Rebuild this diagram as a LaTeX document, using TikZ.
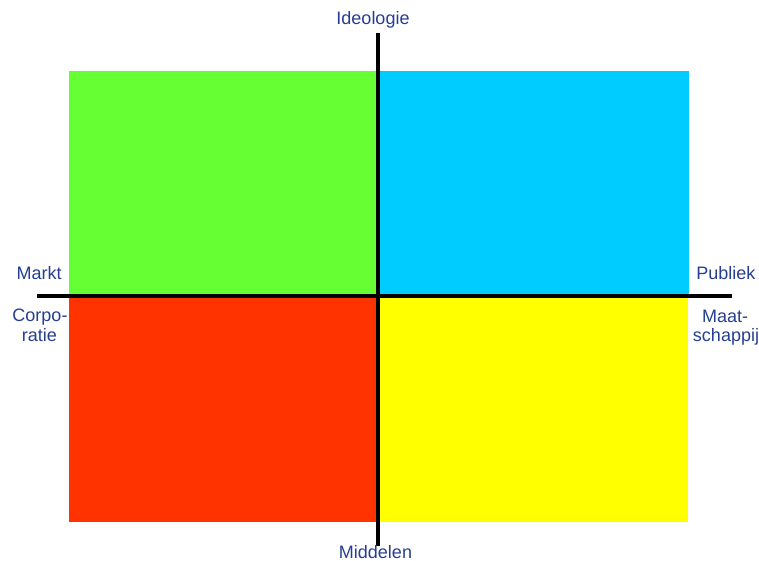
\documentclass[tikz,border=0pt]{standalone}
\usepackage{fontspec}
\setmainfont{Liberation Sans}
\definecolor{lbl}{RGB}{38,62,145}
\definecolor{qgreen}{RGB}{102,255,51}
\definecolor{qblue}{RGB}{0,204,255}
\definecolor{qred}{RGB}{255,51,0}
\definecolor{qyellow}{RGB}{255,255,0}
\begin{document}
\begin{tikzpicture}[x=1pt,y=-1pt,
  lab/.style={text=lbl,font=\fontsize{18}{21}\selectfont,inner sep=0pt,anchor=base},
  axis/.style={line width=3.3pt,black}]
\useasboundingbox (0,0) rectangle (759,561);
\fill[qgreen] (69,71) rectangle (378,296);
\fill[qblue] (378,71) rectangle (689,296);
\fill[qred] (69,296) rectangle (378,522);
\fill[qyellow] (378,296) rectangle (688,522);
\coordinate (top) at (378,33.5);
\coordinate (bot) at (378,546);
\coordinate (left) at (37,296);
\coordinate (right) at (731.5,296);
\draw[axis] (top) -- (bot);
\draw[axis] (left) -- (right);
\node[lab] (ideo) at (373,25) {Ideologie};
\node[lab] (midd) at (375.5,558.5) {Middelen};
\node[lab,anchor=base west] (markt) at (16.5,279.3) {Markt};
\node[lab,anchor=base east] (publ) at (755.5,279.3) {Publiek};
\node[lab] (corp1) at (40,321.7) {Corpo-};
\node[lab] (corp2) at (39.5,341.7) {ratie};
\node[lab] (maat1) at (725,322.7) {Maat-};
\node[lab] (maat2) at (726,341.7) {schappij};
\end{tikzpicture}
\end{document}
